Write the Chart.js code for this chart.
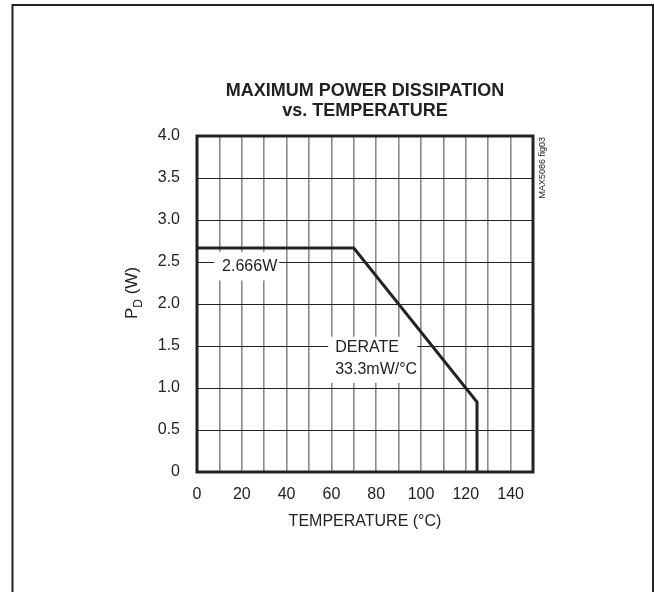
<!doctype html>
<html lang="en">
  <head>
    <meta charset="utf-8">
    <title>Maximum Power Dissipation vs. Temperature</title>
    <style>
      body { margin: 0; background: #fff; }
      canvas { display: block; }
    </style>
  </head>
  <body>
    <canvas id="pd-chart" width="654" height="592"></canvas>

    <script src="https://cdn.jsdelivr.net/npm/chart.js@4/dist/chart.umd.min.js"></script>
    <script>
    // derating curve
    const temps = [0, 70, 125, 125];
    const power = [2.666, 2.666, 0.833, 0];

    const titleLines = ["MAXIMUM POWER DISSIPATION", "vs. TEMPERATURE"];
    const xTitle = "TEMPERATURE (°C)";
    const figId = "MAX5086 fig03";
    const flatLabel = ["2.666W"];
    const derateLabel = ["DERATE", "33.3mW/°C"];

    const FONT = "'Liberation Sans', Arial, Helvetica, sans-serif";
    const INK = "#222";

    // text, white boxes, frame etc.
    const decorations = {
      id: "decorations",
      beforeDatasetsDraw(chart) {
        const { ctx, scales: { x, y } } = chart;
        ctx.save();
        ctx.fillStyle = "#fff";
        // boxes behind the labels (data units)
        [[7.6, 36.7, 2.62, 2.28], [58.6, 98.4, 1.61, 1.06]].forEach(b => {
          const x0 = x.getPixelForValue(b[0]), x1 = x.getPixelForValue(b[1]);
          const y0 = y.getPixelForValue(b[2]), y1 = y.getPixelForValue(b[3]);
          ctx.fillRect(x0, y0, x1 - x0, y1 - y0);
        });
        ctx.fillStyle = INK;
        ctx.font = "16px " + FONT;
        ctx.textAlign = "left";
        ctx.textBaseline = "middle";
        ctx.fillText(flatLabel[0], x.getPixelForValue(11.2), y.getPixelForValue(2.44));
        ctx.fillText(derateLabel[0], x.getPixelForValue(61.7), y.getPixelForValue(1.48));
        ctx.fillText(derateLabel[1], x.getPixelForValue(61.7), y.getPixelForValue(1.22));
        ctx.restore();
      },
      afterDraw(chart) {
        const { ctx, chartArea: a } = chart;
        ctx.save();
        // plot frame
        ctx.strokeStyle = INK;
        ctx.lineWidth = 3;
        ctx.strokeRect(a.left, a.top, a.right - a.left, a.bottom - a.top);

        // outer page frame (open at the bottom)
        ctx.lineWidth = 2;
        ctx.beginPath();
        ctx.moveTo(12.5, 592);
        ctx.lineTo(12.5, 5);
        ctx.lineTo(653, 5);
        ctx.lineTo(653, 592);
        ctx.stroke();

        const cx = (a.left + a.right) / 2;
        ctx.fillStyle = INK;
        ctx.textAlign = "center";
        ctx.textBaseline = "middle";
        ctx.font = "bold 18px " + FONT;
        ctx.fillText(titleLines[0], cx, 91);
        ctx.fillText(titleLines[1], cx, 111);

        ctx.font = "16px " + FONT;
        ctx.fillText(xTitle, cx, 522);

        // y title with subscript
        ctx.save();
        ctx.translate(132.5, 293);
        ctx.rotate(-Math.PI / 2);
        ctx.textAlign = "left";
        ctx.font = "17px " + FONT;
        const wP = ctx.measureText("P").width;
        const wRest = ctx.measureText(" (W)").width;
        ctx.font = "12px " + FONT;
        const wD = ctx.measureText("D").width;
        let sx = -(wP + wD + wRest) / 2;
        ctx.font = "17px " + FONT;
        ctx.fillText("P", sx, 0);
        ctx.fillText(" (W)", sx + wP + wD, 0);
        ctx.font = "12px " + FONT;
        ctx.fillText("D", sx + wP, 6);
        ctx.restore();

        // figure id along right edge
        ctx.save();
        ctx.translate(543, a.top + 1);
        ctx.rotate(-Math.PI / 2);
        ctx.font = "9px " + FONT;
        ctx.textAlign = "right";
        ctx.fillText(figId, 0, 0);
        ctx.restore();

        ctx.restore();
      }
    };

    const chart = new Chart(document.getElementById("pd-chart"), {
      type: "line",
      data: {
        datasets: [{
          data: temps.map((t, i) => ({ x: t, y: power[i] })),
          borderColor: INK,
          borderWidth: 3,
          pointRadius: 0,
          tension: 0,
          fill: false,
          clip: false
        }]
      },
      options: {
        responsive: false,
        animation: false,
        layout: { padding: { left: 150, right: 121, top: 136, bottom: 80 } },
        plugins: { legend: { display: false }, tooltip: { enabled: false } },
        scales: {
          x: {
            type: "linear",
            min: 0,
            max: 150,
            afterFit: s => { s.height = 40; },
            border: { display: false },
            grid: { color: "#8a8a8a", lineWidth: 1.6, drawTicks: false },
            ticks: {
              stepSize: 10,
              autoSkip: false,
              maxRotation: 0,
              minRotation: 0,
              padding: 13,
              color: INK,
              font: { family: FONT, size: 16 },
              callback: v => (v % 20 === 0 && v < 150) ? String(v) : ""
            }
          },
          y: {
            min: 0,
            max: 4,
            afterFit: s => { s.width = 47; },
            border: { display: false },
            grid: { color: INK, lineWidth: 1, drawTicks: false },
            ticks: {
              stepSize: 0.5,
              autoSkip: false,
              padding: 17,
              color: INK,
              font: { family: FONT, size: 16 },
              callback: v => v === 0 ? "0" : v.toFixed(1)
            }
          }
        }
      },
      plugins: [decorations]
    });
    </script>
  </body>
</html>
